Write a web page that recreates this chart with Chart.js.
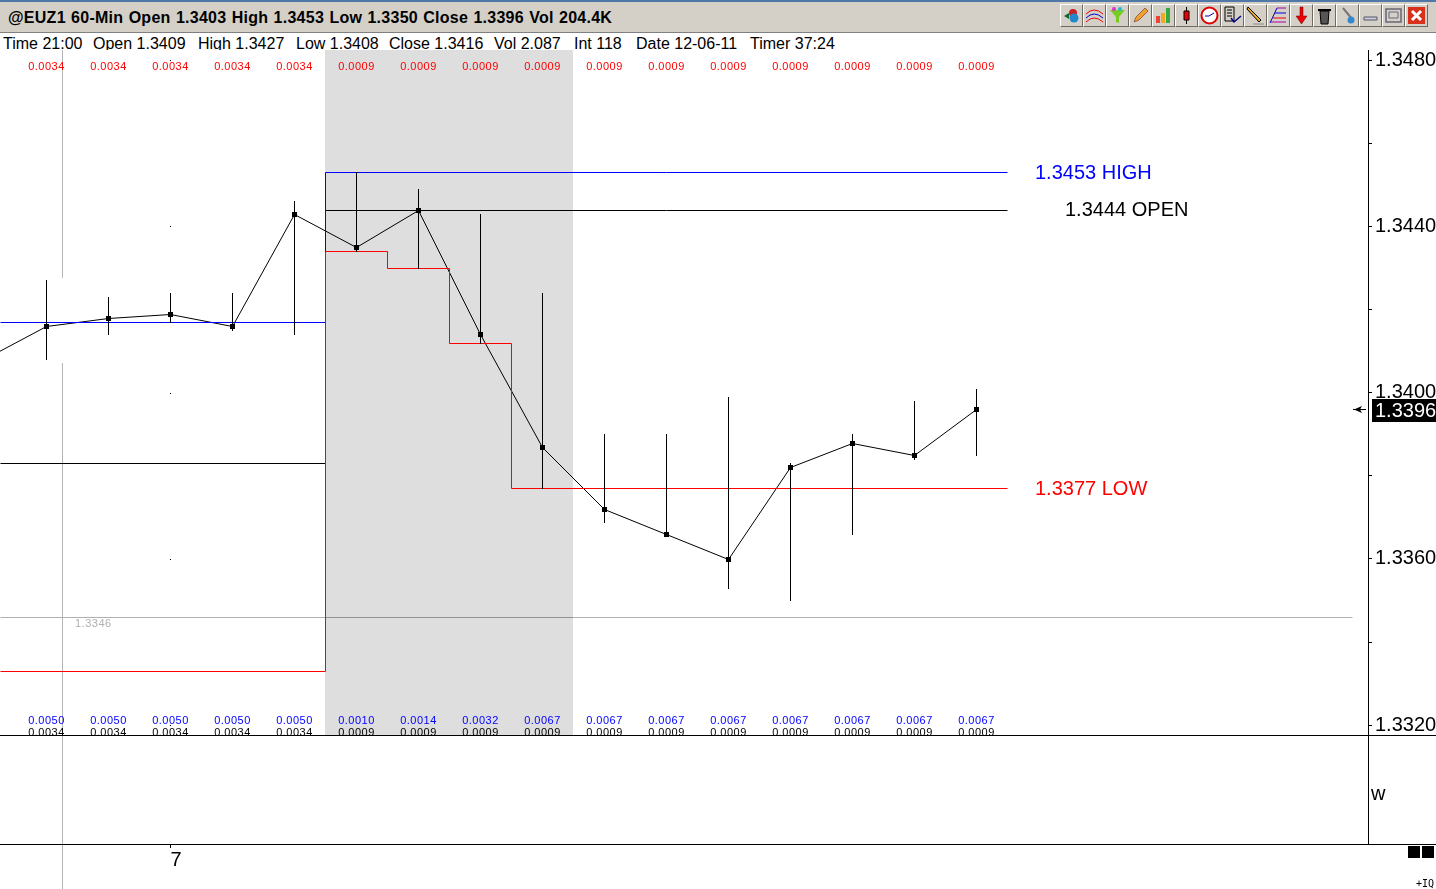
<!DOCTYPE html>
<html>
    <head>
        <meta charset="UTF-8">
        <title>@EUZ1 60-Min</title>
        <script src="https://cdn.jsdelivr.net/npm/chart.js@4"></script>
        <style>
            html,body{margin:0;padding:0;width:1436px;height:889px;overflow:hidden;background:#fff;
                font-family:"Liberation Sans",sans-serif;color:#000;}
            #titleBar{position:absolute;left:0;top:0;width:1436px;height:30px;background:#d4d0c8;
                border-top:2px solid #4f78a8;border-bottom:1px solid #808080;}
            #title{position:absolute;left:8px;top:7px;font-size:16px;font-weight:bold;white-space:nowrap;word-spacing:0.6px;letter-spacing:0.26px;}
            #toolbar{position:absolute;left:1060px;top:2px;display:flex;}
            #toolbar svg{width:23px;height:23px;box-sizing:border-box;background:#d4d0c8;
                border:1px solid;border-color:#fff #6e6a62 #6e6a62 #fff;}
            #statusRow{position:absolute;left:0;top:34px;width:1436px;height:16px;overflow:hidden;font-size:16px;line-height:19px;}
            #statusRow span{position:absolute;top:0;white-space:nowrap;}
            canvas{position:absolute;left:0;display:block;}
            #mainChart{top:50px;}
            #lowerChart{top:735px;}
            .marker{position:absolute;top:846px;width:12px;height:12px;background:#000;}
            #zoomText{position:absolute;left:1416px;top:878px;font:10px "DejaVu Sans Mono",monospace;}
        </style>
    </head>
    <body>
        <div id="titleBar">
            <div id="title">@EUZ1 60-Min Open 1.3403 High 1.3453 Low 1.3350 Close 1.3396 Vol 204.4K</div>
            <div id="toolbar">
                <svg viewBox="0 0 21 21"><circle cx="12" cy="8" r="4" fill="#c22"/><circle cx="13" cy="13" r="4.5" fill="#28c"/><path d="M3 11l5-3v6z" fill="#163"/></svg>
                <svg viewBox="0 0 21 21" fill="none"><path d="M2 9q8-8 17 0" stroke="#e00"/><path d="M2 13q8-8 17 0" stroke="#00d"/><path d="M2 17q8-8 17 0" stroke="#e00"/></svg>
                <svg viewBox="0 0 21 21"><path d="M3 5h15l-6 7v6l-3-1v-5z" fill="#7c2"/><circle cx="7" cy="4" r="2" fill="#d3c"/><circle cx="13" cy="4" r="2" fill="#2bc"/></svg>
                <svg viewBox="0 0 21 21"><path d="M4 17l2-5 9-9 3 3-9 9z" fill="#f0a030" stroke="#964"/></svg>
                <svg viewBox="0 0 21 21"><path d="M3 11h4v7H3z" fill="#e43"/><path d="M8 8h4v10H8z" fill="#ea2"/><path d="M13 3h4v15h-4z" fill="#3a4"/></svg>
                <svg viewBox="0 0 21 21"><path d="M10.500 2v17" stroke="#000"/><path d="M8 6h5v9H8z" fill="#e00" stroke="#000"/></svg>
                <svg viewBox="0 0 21 21"><circle cx="10.500" cy="10.500" r="8" fill="#fff" stroke="#d00" stroke-width="2"/><path d="M10 11l5-3M10 11H6" stroke="#00a"/></svg>
                <svg viewBox="0 0 21 21" fill="none"><path d="M3 2h9v14H3z" stroke="#000"/><path d="M5 5h5M5 8h5M5 11h5" stroke="#000"/><path d="M9 13l3 4 7-6" stroke="#008" stroke-width="1.5"/></svg>
                <svg viewBox="0 0 21 21"><path d="M3 2l13 13-2 2L2 4z" fill="#ea2" stroke="#000"/><path d="M8 19h11" stroke="#888"/></svg>
                <svg viewBox="0 0 21 21" fill="none"><path d="M2 18L9 3" stroke="#00a"/><path d="M9 3h9" stroke="#a0a"/><path d="M7 8h11" stroke="#00d"/><path d="M5 13h13" stroke="#e00"/><path d="M3 17h15" stroke="#a0a"/></svg>
                <svg viewBox="0 0 21 21"><path d="M9 2h3v9h4l-5.500 8L5 11h4z" fill="#e00" stroke="#600" stroke-width=".5"/></svg>
                <svg viewBox="0 0 21 21"><path d="M6 6h9l-1 13H7z" fill="#555" stroke="#000"/><path d="M4 4h13v2H4z" fill="#000"/></svg>
                <svg viewBox="0 0 21 21"><path d="M6 3l9 11" stroke="#777" stroke-width="2"/><circle cx="14" cy="15" r="3.500" fill="#38c"/></svg>
                <svg viewBox="0 0 21 21"><path d="M4 12h13v3H4z" fill="#c8ccd8" stroke="#556"/></svg>
                <svg viewBox="0 0 21 21"><path d="M3 4h15v13H3z" fill="none" stroke="#667" stroke-width="1.500"/><path d="M6 7h9v6H6z" fill="none" stroke="#667"/></svg>
                <svg viewBox="0 0 21 21"><path d="M2 2h17v17H2z" fill="#d8301c"/><path d="M6 6l9 9M15 6l-9 9" stroke="#fff" stroke-width="3"/></svg>
            </div>
        </div>
        <div id="statusRow">
            <span style="left:3px">Time 21:00</span>
            <span style="left:93px">Open 1.3409</span>
            <span style="left:198px">High 1.3427</span>
            <span style="left:296px">Low 1.3408</span>
            <span style="left:389px">Close 1.3416</span>
            <span style="left:494px">Vol 2.087</span>
            <span style="left:574px">Int 118</span>
            <span style="left:636px">Date 12-06-11</span>
            <span style="left:750px">Timer 37:24</span>
        </div>
        <canvas id="mainChart" width="1436" height="685"></canvas>
        <canvas id="lowerChart" width="1436" height="154"></canvas>
        <div class="marker" style="left:1408px"></div>
        <div class="marker" style="left:1422px"></div>
        <div id="zoomText">+IQ</div>

        <script>
            // bars
            const closes=[1.3416,1.3418,1.3419,1.3416,1.3443,1.3435,1.3444,1.3414,1.3387,1.3372,1.3366,1.3360,1.3382,1.3388,1.3385,1.3396];
            const highs =[1.3427,1.3423,1.3424,1.3424,1.3446,1.3453,1.3449,1.3443,1.3424,1.3390,1.3390,1.3399,1.3383,1.3390,1.3398,1.3401];
            const lows  =[1.3408,1.3414,1.3417,1.3415,1.3414,1.3434,1.3430,1.3412,1.3377,1.3369,1.3366,1.3353,1.3350,1.3366,1.3384,1.3385];
            const prevBarIndex=-1;
            const prevClose=1.3408;

            // text rows above and below the bars
            const topValues   =["0.0034","0.0034","0.0034","0.0034","0.0034","0.0009","0.0009","0.0009","0.0009","0.0009","0.0009","0.0009","0.0009","0.0009","0.0009","0.0009"];
            const blueValues  =["0.0050","0.0050","0.0050","0.0050","0.0050","0.0010","0.0014","0.0032","0.0067","0.0067","0.0067","0.0067","0.0067","0.0067","0.0067","0.0067"];
            const blackValues =["0.0034","0.0034","0.0034","0.0034","0.0034","0.0009","0.0009","0.0009","0.0009","0.0009","0.0009","0.0009","0.0009","0.0009","0.0009","0.0009"];

            // session levels, x in bar index units
            const xStart=-0.75;
            const xEnd=21.3145;
            const sessionStart=4.5;
            const sessionEnd=8.5;
            const levelEnd=15.5;
            const lowStepX=[xStart,4.5,5.5,6.5,7.5,levelEnd];
            const lowStepY=[1.3333,1.3434,1.3430,1.3412,1.3377,1.3377];
            const highStepX=[xStart,4.5,levelEnd];
            const highStepY=[1.3417,1.3453,1.3453];
            const openLineX=[xStart,4.5,4.5,4.5,levelEnd];
            const openLineY=[1.3383,1.3383,null,1.3444,1.3444];
            const lastLevel=1.3346;
            const lastLevelX=[xStart,4.5,8.5,21.06];
            const cursorX=0.258;
            const cursorY=[1.34825,1.34279,null,1.34072,1.33176];
            const dotBar=2;
            const dotPrices=[1.3480,1.3440,1.3400,1.3360,1.3320];

            // axis
            const yMax=1.348245;
            const yMin=1.331763;
            const priceTicks=[1.3480,1.3460,1.3440,1.3420,1.3400,1.3380,1.3360,1.3340,1.3320];
            const priceLabels=["1.3480","","1.3440","","1.3400","","1.3360","","1.3320"];
            const lastPrice=1.3396;
            const levelLabels=[
                {text:"1.3453 HIGH",price:1.3453,x:1035,color:"#0000ff"},
                {text:"1.3444 OPEN",price:1.3444,x:1065,color:"#000000"},
                {text:"1.3377 LOW",price:1.3377,x:1035,color:"#ff0000"}
            ];

            const FONT='"Liberation Sans"';
            Chart.defaults.font.family=FONT;
            Chart.defaults.color="#000";

            const zip=(xs,ys)=>xs.map((x,i)=>({x:x,y:ys[i]}));
            const barIndex=closes.map((c,i)=>i);

            // the old charting program draws without antialiasing, keep straight lines on whole pixels
            const snapPlugin={
                id:"snap",
                afterDatasetsUpdate(chart){
                    chart.getSortedVisibleDatasetMetas().forEach(meta=>{
                        meta.data.forEach(el=>{
                            el.x=Math.floor(el.x)+0.5;
                            if(meta.type=="bar"){
                                el.y=Math.round(el.y);
                                el.base=Math.round(el.base)+1;
                            }else{
                                el.y=Math.round(el.y)+0.5;
                            }
                        });
                    });
                }
            };

            const sessionBand={
                id:"sessionBand",
                beforeDatasetsDraw(chart){
                    const {ctx,chartArea,scales}=chart;
                    const x1=Math.floor(scales.x.getPixelForValue(sessionStart));
                    const x2=Math.floor(scales.x.getPixelForValue(sessionEnd));
                    ctx.save();
                    ctx.fillStyle="#dedede";
                    ctx.fillRect(x1,chartArea.top,x2-x1,chartArea.bottom-chartArea.top);
                    ctx.restore();
                }
            };

            function drawRow(ctx,scale,values,y,color){
                ctx.fillStyle=color;
                values.forEach((v,i)=>ctx.fillText(v,scale.getPixelForValue(i),y));
            }

            const chartTexts={
                id:"chartTexts",
                afterDatasetsDraw(chart){
                    const {ctx,chartArea,scales}=chart;
                    const b=chartArea.bottom;
                    ctx.save();
                    ctx.beginPath();
                    ctx.rect(chartArea.left,chartArea.top,chartArea.right-chartArea.left,b-chartArea.top);
                    ctx.clip();
                    ctx.font="11px "+FONT;
                    ctx.letterSpacing="0.5px";
                    ctx.textAlign="center";
                    ctx.textBaseline="alphabetic";
                    drawRow(ctx,scales.x,topValues,19.5,"#ff0000");
                    drawRow(ctx,scales.x,blueValues,b-11,"#0000ff");
                    drawRow(ctx,scales.x,blackValues,b+1,"#000000");
                    ctx.textAlign="left";
                    ctx.fillStyle="#b0b0b0";
                    ctx.fillText(lastLevel.toFixed(4),75,scales.y.getPixelForValue(lastLevel)+10);
                    ctx.letterSpacing="0px";
                    ctx.font="20px "+FONT;
                    ctx.textBaseline="middle";
                    levelLabels.forEach(l=>{
                        ctx.fillStyle=l.color;
                        ctx.fillText(l.text,l.x,scales.y.getPixelForValue(l.price)+1);
                    });
                    ctx.restore();
                },
                afterDraw(chart){
                    const {ctx,scales}=chart;
                    const y=Math.round(scales.y.getPixelForValue(lastPrice));
                    ctx.save();
                    ctx.fillStyle="#000";
                    ctx.fillRect(1372,y-10,64,23);
                    ctx.fillStyle="#fff";
                    ctx.font="20px "+FONT;
                    ctx.textAlign="left";
                    ctx.textBaseline="middle";
                    ctx.fillText(lastPrice.toFixed(4),1375,y+2);
                    // arrow pointing at the last price
                    ctx.fillStyle="#000";
                    ctx.fillRect(1353,y,13,1);
                    ctx.beginPath();
                    ctx.moveTo(1354,y+0.5);
                    ctx.lineTo(1362,y-3);
                    ctx.lineTo(1360,y+0.5);
                    ctx.lineTo(1362,y+4);
                    ctx.closePath();
                    ctx.fill();
                    ctx.restore();
                }
            };

            // the panel borders run through the axis margin too
            const panelBorders={
                id:"panelBorders",
                afterDraw(chart){
                    const {ctx,chartArea}=chart;
                    ctx.save();
                    ctx.fillStyle="#000";
                    ctx.fillRect(0,chartArea.top,chart.width,1);
                    ctx.fillRect(0,chartArea.bottom,chart.width,1);
                    ctx.restore();
                }
            };

            function fitRightAxis(scale){
                scale.width=68;
                scale.paddingTop=0;
                scale.paddingBottom=0;
            }

            const mainOptions={
                responsive:false,
                animation:false,
                devicePixelRatio:1,
                events:[],
                layout:{padding:0,autoPadding:false},
                plugins:{legend:{display:false},tooltip:{enabled:false},title:{display:false}},
                scales:{
                    x:{type:"linear",offset:false,min:xStart,max:xEnd,display:false},
                    y:{
                        type:"linear",position:"right",min:yMin,max:yMax,
                        afterBuildTicks(scale){scale.ticks=priceTicks.map(v=>({value:v}));},
                        afterFit:fitRightAxis,
                        grid:{drawOnChartArea:false,tickLength:4,color:"#000",lineWidth:1},
                        border:{color:"#000",width:1},
                        ticks:{
                            autoSkip:false,padding:3,color:"#000",font:{size:20},
                            callback:(v,i)=>priceLabels[i]
                        }
                    }
                }
            };

            new Chart(document.getElementById("mainChart"),{
                type:"bar",
                data:{datasets:[
                    {type:"bar",data:barIndex.map(i=>({x:i,y:[lows[i],highs[i]]})),
                        backgroundColor:"#000",borderWidth:0,barThickness:1,inflateAmount:0,grouped:false},
                    {type:"line",data:zip(lowStepX,lowStepY),stepped:true,borderColor:"#ff0000",borderWidth:1,pointRadius:0},
                    {type:"line",data:zip(highStepX,highStepY),stepped:true,borderColor:"#0000ff",borderWidth:1,pointRadius:0},
                    {type:"line",data:zip(openLineX,openLineY),borderColor:"#000000",borderWidth:1,pointRadius:0},
                    {type:"line",data:[{x:prevBarIndex,y:prevClose}].concat(zip(barIndex,closes)),
                        borderColor:"#000",borderWidth:1,tension:0,
                        pointStyle:"rect",pointRadius:3.54,pointBorderWidth:0,pointBackgroundColor:"#000"},
                    {type:"line",data:lastLevelX.map(x=>({x:x,y:lastLevel})),borderColor:"#b0b0b0",borderWidth:1,pointRadius:0,
                        segment:{borderColor:c=>c.p0.parsed.x==sessionStart?"#929292":"#b0b0b0"}},
                    {type:"line",data:cursorY.map(y=>({x:cursorX,y:y})),borderColor:"#b4b4b4",borderWidth:1,pointRadius:0},
                    {type:"line",data:dotPrices.map(y=>({x:dotBar,y:y})),showLine:false,
                        pointStyle:"rect",pointRadius:0.71,pointBorderWidth:0,pointBackgroundColor:"#000"}
                ]},
                options:mainOptions,
                plugins:[snapPlugin,sessionBand,chartTexts]
            });

            new Chart(document.getElementById("lowerChart"),{
                type:"line",
                data:{datasets:[
                    {data:[{x:cursorX,y:1},{x:cursorX,y:-0.4128}],borderColor:"#b4b4b4",borderWidth:1,pointRadius:0,clip:false}
                ]},
                options:{
                    responsive:false,
                    animation:false,
                    devicePixelRatio:1,
                    events:[],
                    layout:{padding:0,autoPadding:false},
                    plugins:{legend:{display:false},tooltip:{enabled:false}},
                    scales:{
                        x:{
                            type:"linear",min:xStart,max:xEnd,
                            afterBuildTicks(scale){scale.ticks=[{value:dotBar}];},
                            afterFit(scale){scale.height=45;scale.paddingLeft=0;scale.paddingRight=0;},
                            grid:{drawOnChartArea:false,tickLength:4,color:"#000"},
                            border:{display:false},
                            ticks:{autoSkip:false,maxRotation:0,align:"start",padding:0,color:"#000",font:{size:20},callback:()=>"7"}
                        },
                        y:{
                            type:"linear",position:"right",min:0,max:1,
                            afterBuildTicks(scale){scale.ticks=[{value:0.45}];},
                            afterFit:fitRightAxis,
                            grid:{drawOnChartArea:false,drawTicks:false},
                            border:{color:"#000",width:1},
                            ticks:{autoSkip:false,padding:3,color:"#000",font:{size:20},callback:()=>"w"}
                        }
                    }
                },
                plugins:[snapPlugin,panelBorders]
            });
        </script>
    </body>
</html>
